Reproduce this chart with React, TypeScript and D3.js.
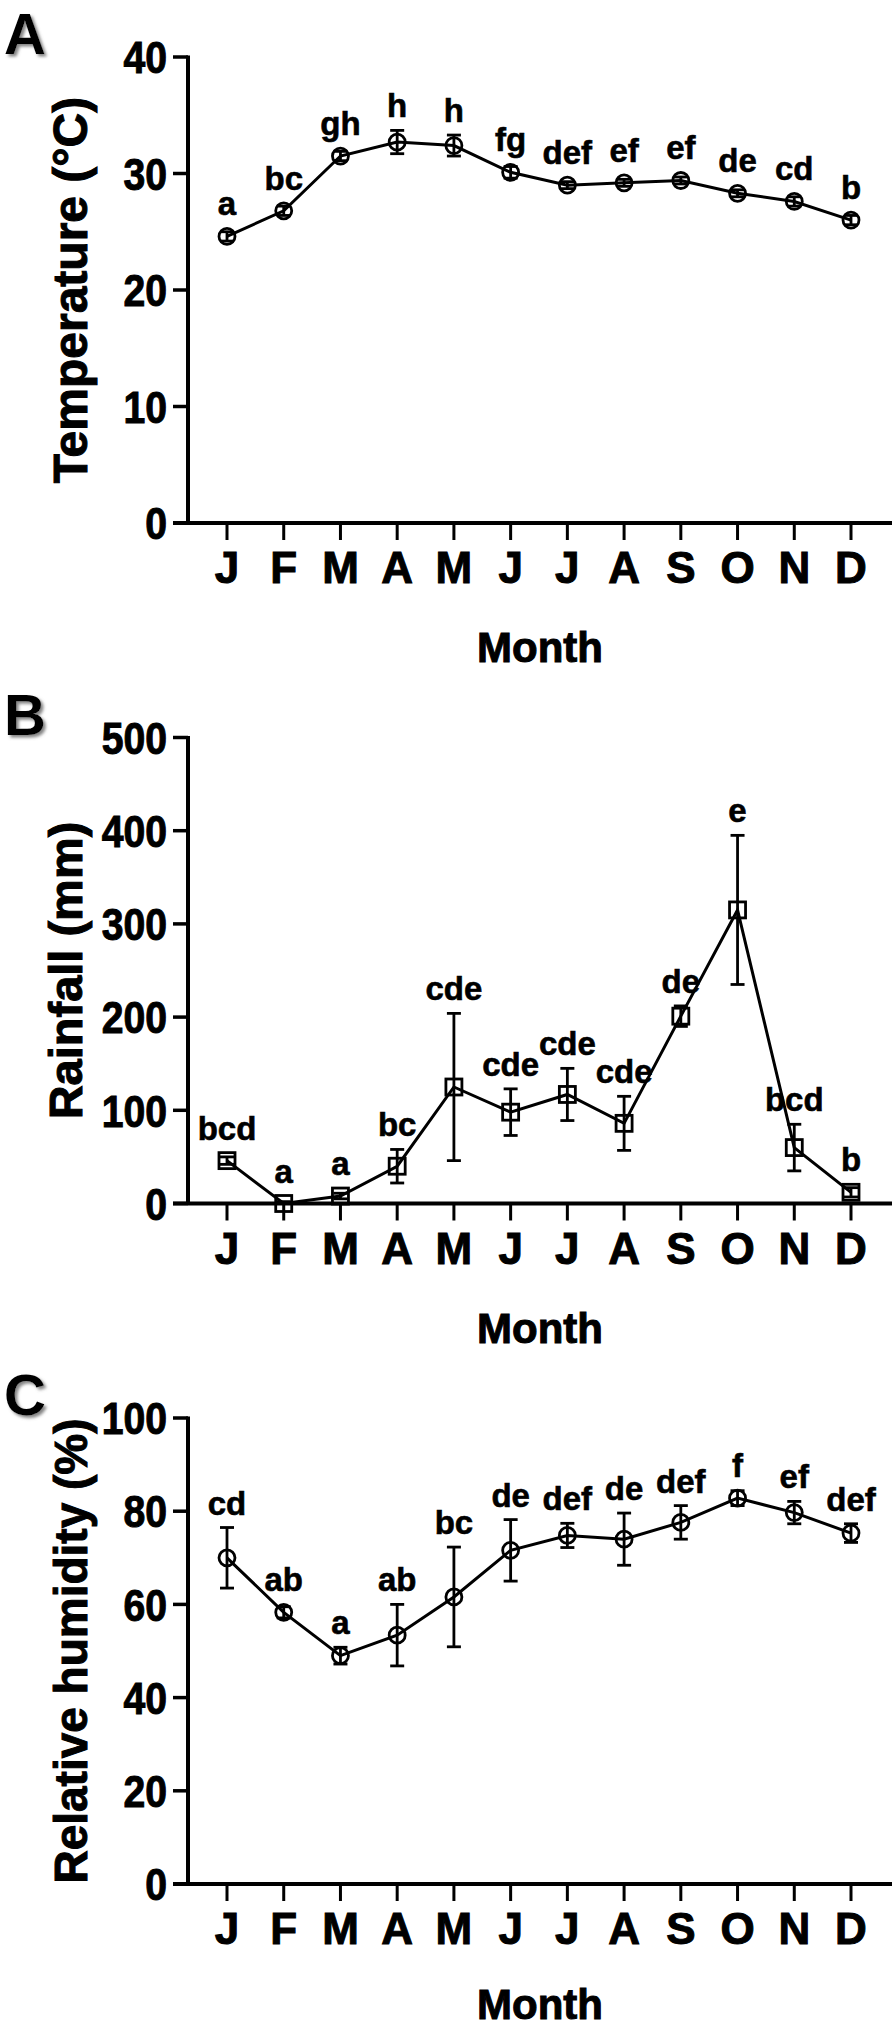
import * as d3 from 'd3';

// Monthly climate summary: mean ± SE with letter groups, three stacked panels.

const MONTH_KEYS = ['Jan', 'Feb', 'Mar', 'Apr', 'May', 'Jun', 'Jul', 'Aug', 'Sep', 'Oct', 'Nov', 'Dec'];
const MONTH_LABELS = ['J', 'F', 'M', 'A', 'M', 'J', 'J', 'A', 'S', 'O', 'N', 'D'];

const tempMean = [24.6, 26.8, 31.5, 32.7, 32.4, 30.1, 29.0, 29.2, 29.4, 28.3, 27.6, 26.0];
const tempErr = [0.4, 0.4, 0.4, 1.0, 0.9, 0.5, 0.3, 0.3, 0.3, 0.3, 0.4, 0.4];
const tempLetters = ['a', 'bc', 'gh', 'h', 'h', 'fg', 'def', 'ef', 'ef', 'de', 'cd', 'b'];
const tempTicks = [0, 10, 20, 30, 40];

const rainMean = [46, 0, 8, 40, 125, 98, 117, 86, 201, 315, 60, 12];
const rainErr = [4, 2, 3, 18, 79, 25, 28, 29, 11, 80, 25, 5];
const rainLetters = ['bcd', 'a', 'a', 'bc', 'cde', 'cde', 'cde', 'cde', 'de', 'e', 'bcd', 'b'];
const rainTicks = [0, 100, 200, 300, 400, 500];

const humMean = [70, 58.3, 49, 53.4, 61.6, 71.6, 74.8, 74, 77.6, 82.8, 79.7, 75.3];
const humErr = [6.5, 1.2, 1.8, 6.6, 10.7, 6.6, 2.6, 5.6, 3.6, 1.6, 2.4, 2.0];
const humLetters = ['cd', 'ab', 'a', 'ab', 'bc', 'de', 'def', 'de', 'def', 'f', 'ef', 'def'];
const humTicks = [0, 20, 40, 60, 80, 100];

const W = 893;
const H = 2028;
const FONT = '"Liberation Sans", Arial, Helvetica, sans-serif';
const AXIS_X = 188;
const PLOT_TOP = 57;
const PLOT_H = 466;
const PANEL_STEP = 680.5;

// shared look for the heavy, slightly blurred lettering of the original
const heavy = { fontFamily: FONT, fontWeight: 'bold' as const, fill: '#000', stroke: '#000', strokeWidth: 1 };

type PanelProps = {
  index: number;
  tag: string;
  title: string;
  titleX: number;
  titleSize: number;
  mean: number[];
  err: number[];
  letters: string[];
  ticks: number[];
  marker: 'circle' | 'square';
};

function Panel({ index, tag, title, titleX, titleSize, mean, err, letters, ticks, marker }: PanelProps) {
  const top = PLOT_TOP + index * PANEL_STEP;
  const bottom = top + PLOT_H;

  const x = d3.scalePoint<string>().domain(MONTH_KEYS).range([227, 851]);
  const y = d3
    .scaleLinear()
    .domain([0, ticks[ticks.length - 1]])
    .range([bottom, top]);

  const pts = MONTH_KEYS.map((k, i) => ({ k, m: mean[i], e: err[i], l: letters[i] }));
  const linePath = d3
    .line<(typeof pts)[number]>()
    .x((d) => x(d.k)!)
    .y((d) => y(d.m))(pts);

  const tagY = 54 + index * PANEL_STEP;

  return (
    <g>
      <text x={4} y={tagY} fontSize={58} fontFamily={FONT} fontWeight="bold" fill="#000" filter="url(#tagShadow)">
        {tag}
      </text>

      {/* y axis */}
      <line x1={AXIS_X} x2={AXIS_X} y1={top - 1.5} y2={bottom} stroke="#000" strokeWidth={4} />
      {ticks.map((t) => (
        <g key={t}>
          <line x1={173} x2={AXIS_X} y1={y(t)} y2={y(t)} stroke="#000" strokeWidth={3.5} />
          <text
            transform={`translate(167,${y(t)}) scale(0.87,1)`}
            dy="0.36em"
            textAnchor="end"
            fontSize={45}
            {...heavy}
          >
            {t}
          </text>
        </g>
      ))}
      <text
        transform={`translate(${titleX},${(top + bottom) / 2}) rotate(-90)`}
        textAnchor="middle"
        fontSize={titleSize}
        {...heavy}
      >
        {title}
      </text>

      {/* x axis */}
      <line x1={173} x2={892} y1={bottom} y2={bottom} stroke="#000" strokeWidth={4} />
      {MONTH_KEYS.map((k, i) => (
        <g key={k}>
          <line x1={x(k)} x2={x(k)} y1={bottom} y2={bottom + 17} stroke="#000" strokeWidth={3} />
          <text x={x(k)} y={bottom + 60} textAnchor="middle" fontSize={44} {...heavy}>
            {MONTH_LABELS[i]}
          </text>
        </g>
      ))}
      <text
        x={(AXIS_X + 892) / 2}
        y={Math.min(bottom + 139, H - 9)}
        textAnchor="middle"
        fontSize={42}
        {...heavy}
      >
        Month
      </text>

      {/* series */}
      <path d={linePath ?? ''} fill="none" stroke="#000" strokeWidth={3} />
      {pts.map((d) => {
        const cx = x(d.k)!;
        const cy = y(d.m);
        const yHi = y(d.m + d.e);
        const yLo = y(Math.max(0, d.m - d.e));
        const labelY = Math.min(yHi, cy - 8) - 13;
        return (
          <g key={d.k}>
            <line x1={cx} x2={cx} y1={yHi} y2={yLo} stroke="#000" strokeWidth={2.8} />
            <line x1={cx - 7} x2={cx + 7} y1={yHi} y2={yHi} stroke="#000" strokeWidth={2.8} />
            <line x1={cx - 7} x2={cx + 7} y1={yLo} y2={yLo} stroke="#000" strokeWidth={2.8} />
            {marker === 'circle' ? (
              <circle cx={cx} cy={cy} r={8} fill="none" stroke="#000" strokeWidth={2.8} />
            ) : (
              <rect x={cx - 8} y={cy - 8} width={16} height={16} fill="none" stroke="#000" strokeWidth={2.8} />
            )}
            <text x={cx} y={labelY} textAnchor="middle" fontSize={33} {...heavy} strokeWidth={0.6}>
              {d.l}
            </text>
          </g>
        );
      })}
    </g>
  );
}

export default function App() {
  return (
    <svg
      width={W}
      height={H}
      viewBox={`0 0 ${W} ${H}`}
      style={{ position: 'absolute', left: 0, top: 0, background: '#fff' }}
    >
      <defs>
        <filter id="tagShadow" x="-20%" y="-20%" width="160%" height="160%">
          <feDropShadow dx={2.5} dy={2.5} stdDeviation={1.5} floodColor="#777" floodOpacity={0.9} />
        </filter>
      </defs>
      <rect width={W} height={H} fill="#fff" />
      <Panel
        index={0}
        tag="A"
        title="Temperature (°C)"
        titleX={87}
        titleSize={48}
        mean={tempMean}
        err={tempErr}
        letters={tempLetters}
        ticks={tempTicks}
        marker="circle"
      />
      <Panel
        index={1}
        tag="B"
        title="Rainfall (mm)"
        titleX={82}
        titleSize={47}
        mean={rainMean}
        err={rainErr}
        letters={rainLetters}
        ticks={rainTicks}
        marker="square"
      />
      <Panel
        index={2}
        tag="C"
        title="Relative humidity (%)"
        titleX={87}
        titleSize={46}
        mean={humMean}
        err={humErr}
        letters={humLetters}
        ticks={humTicks}
        marker="circle"
      />
    </svg>
  );
}
